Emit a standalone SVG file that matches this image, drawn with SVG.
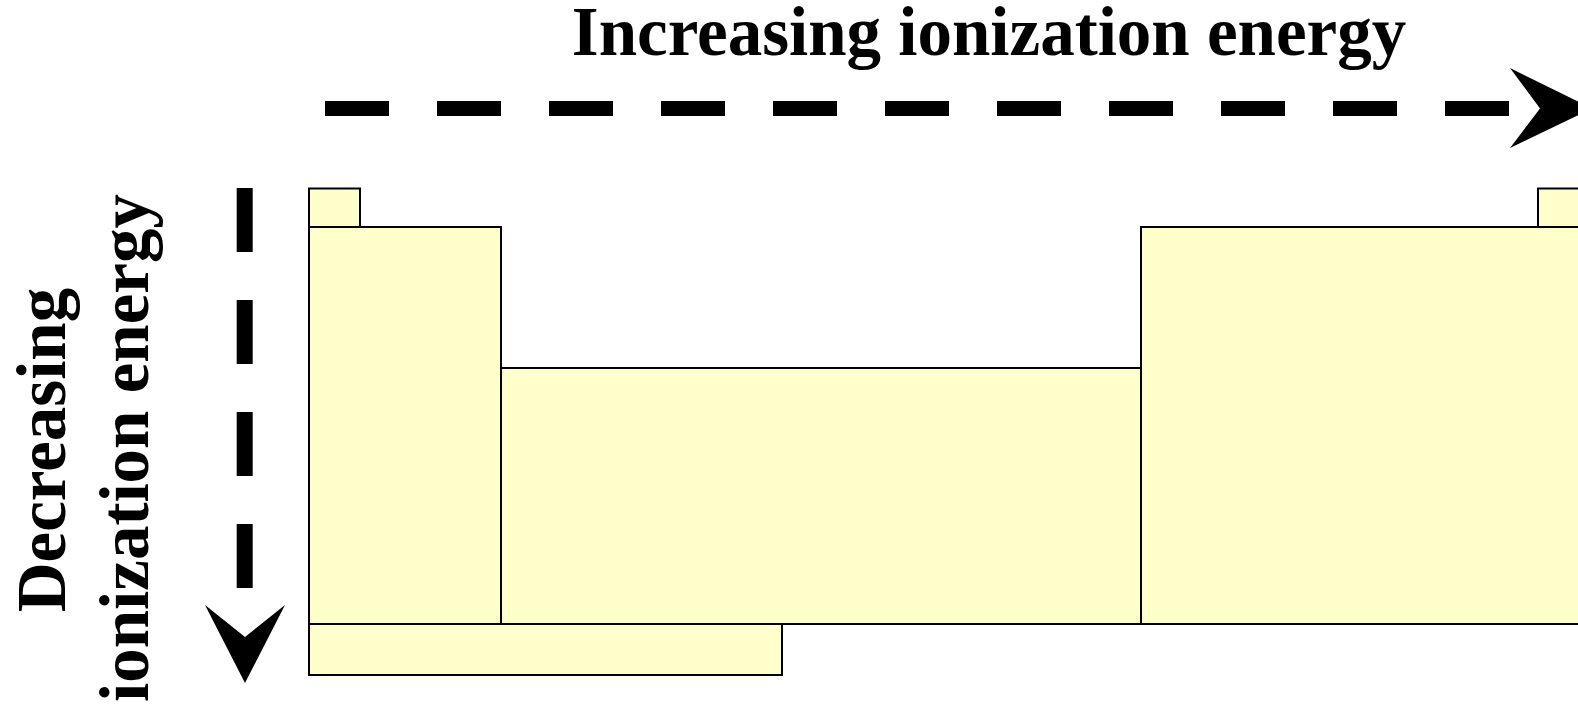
<svg xmlns="http://www.w3.org/2000/svg" width="1578" height="710" viewBox="0 0 1578 710">
  <style>
    .blk { fill: #FFFFCC; stroke: #000; stroke-width: 2; }
    .lbl { font-family: "Liberation Serif", "Times New Roman", serif; font-weight: bold; font-size: 69px; fill: #000; text-anchor: middle; }
    .dash { stroke: #000; fill: none; stroke-dasharray: 64 48; }
  </style>
  <rect width="1578" height="710" fill="#fff"/>
  <g id="title-top">
    <text class="lbl" x="989" y="55">Increasing ionization energy</text>
  </g>
  <g id="title-left">
    <text class="lbl" transform="translate(65,450) rotate(-90)">Decreasing</text>
    <text class="lbl" transform="translate(148,448) rotate(-90)">ionization energy</text>
  </g>
  <g id="connectors">
    <line class="dash" x1="325" y1="108.4" x2="1509" y2="108.4" stroke-width="15"/>
    <polygon points="1510,68 1592,108.4 1510,148 1540,108.4" fill="#000"/>
    <line class="dash" x1="244.7" y1="188" x2="244.7" y2="588" stroke-width="16"/>
    <polygon points="205,605 245,637 285,605 245,683" fill="#000"/>
  </g>
  <g id="block-s-top">
    <rect class="blk" x="309" y="188.5" width="51" height="38.5"/>
  </g>
  <g id="block-p-top">
    <rect class="blk" x="1538" y="188.5" width="60" height="38.5"/>
  </g>
  <g id="block-s">
    <rect class="blk" x="309" y="227" width="192" height="397"/>
  </g>
  <g id="block-d">
    <rect class="blk" x="501" y="368" width="640" height="256"/>
  </g>
  <g id="block-p">
    <rect class="blk" x="1141" y="227" width="460" height="397"/>
  </g>
  <g id="block-f">
    <rect class="blk" x="309" y="624" width="473" height="51"/>
  </g>
</svg>
